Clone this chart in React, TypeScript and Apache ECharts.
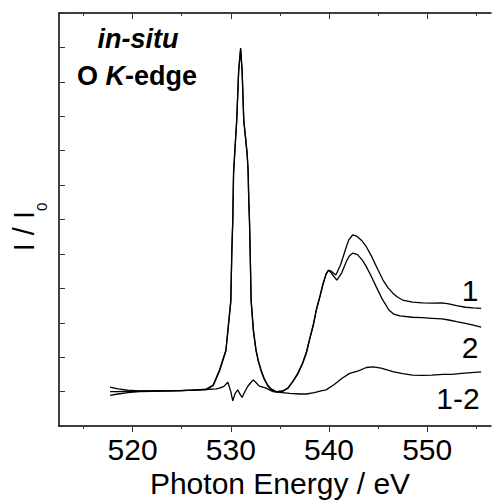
import { useEffect, useRef } from "react";
import * as echarts from "echarts";

// Photon energy (eV) and normalised intensity for spectrum 1
const energy1 = [517.7, 518.5, 519.5, 520.7, 522, 523.5, 525, 526.5, 527.5, 528.2, 528.85, 529.5, 530.0, 530.1, 530.2, 530.28, 530.45, 530.6, 530.8, 531.0, 531.15, 531.32, 531.5, 531.66, 531.76, 531.83, 531.9, 531.97, 532.07, 532.3, 532.57, 532.8, 533.08, 533.4, 533.75, 534.1, 534.6, 535.3, 535.8, 536.3, 536.8, 537.3, 537.7, 538.0, 538.4, 538.7, 539.1, 539.4, 539.7, 539.9, 540.2, 540.7, 541.2, 541.7, 542.0, 542.4, 542.8, 543.3, 543.8, 544.3, 544.8, 545.5, 546.0, 546.5, 547.0, 547.5, 548.5, 549.5, 550.5, 551.5, 552.2, 553.0, 553.9, 554.7, 555.5];
const intensity1 = [1.13, 1.08, 1.04, 1.02, 1.02, 1.03, 1.03, 1.05, 1.07, 1.19, 1.63, 2.21, 3.66, 5.1, 6.0, 7.4, 8.2, 8.9, 10.35, 10.98, 10.35, 8.9, 8.4, 7.93, 7.44, 6.57, 6.0, 5.12, 3.66, 2.8, 2.21, 1.9, 1.63, 1.38, 1.19, 1.08, 1.0, 1.02, 1.1, 1.29, 1.52, 1.83, 2.15, 2.5, 2.95, 3.37, 3.8, 4.15, 4.4, 4.52, 4.5, 4.39, 4.7, 5.15, 5.4, 5.55, 5.52, 5.4, 5.21, 4.95, 4.65, 4.24, 4.02, 3.86, 3.74, 3.66, 3.6, 3.58, 3.57, 3.58, 3.55, 3.5, 3.45, 3.43, 3.42];

// Spectrum 2
const energy2 = [517.7, 518.5, 519.5, 520.7, 522, 523.5, 525, 526.5, 527.5, 528.2, 528.85, 529.5, 530.0, 530.1, 530.2, 530.28, 530.45, 530.6, 530.8, 531.0, 531.15, 531.32, 531.5, 531.66, 531.76, 531.83, 531.9, 531.97, 532.07, 532.3, 532.57, 532.8, 533.08, 533.4, 533.75, 534.1, 534.6, 535.3, 535.8, 536.3, 536.8, 537.3, 537.7, 538.0, 538.4, 538.7, 539.1, 539.4, 539.7, 540.0, 540.4, 540.8, 541.3, 541.8, 542.1, 542.4, 542.9, 543.4, 543.8, 544.3, 544.8, 545.4, 546.1, 546.6, 547.2, 548.5, 549.5, 550.5, 551.5, 552.2, 553.0, 553.9, 554.7, 555.5];
const intensity2 = [1.0, 1.0, 1.01, 1.01, 1.02, 1.02, 1.03, 1.04, 1.06, 1.17, 1.6, 2.18, 3.6, 5.0, 5.95, 7.3, 8.15, 8.85, 10.3, 10.95, 10.3, 8.85, 8.35, 7.9, 7.4, 6.5, 5.95, 5.05, 3.62, 2.75, 2.18, 1.88, 1.6, 1.36, 1.17, 1.06, 0.99, 1.01, 1.09, 1.28, 1.5, 1.8, 2.12, 2.48, 2.92, 3.35, 3.78, 4.12, 4.42, 4.53, 4.38, 4.24, 4.45, 4.8, 4.95, 5.02, 4.98, 4.82, 4.63, 4.35, 4.05, 3.7, 3.37, 3.25, 3.2, 3.16, 3.15, 3.13, 3.11, 3.08, 3.03, 2.98, 2.93, 2.87];

// Difference spectrum 1-2
const energyDiff = [517.7, 518.5, 519.5, 520.7, 522, 524, 526, 527.5, 528.5, 528.85, 529.3, 529.7, 530.0, 530.2, 530.45, 530.7, 530.95, 531.15, 531.4, 531.7, 532.0, 532.3, 532.6, 532.9, 533.6, 534.3, 535.0, 536.0, 537.0, 537.7, 538.5, 539.2, 539.7, 540.5, 541.3, 542.1, 543.0, 543.8, 544.5, 545.3, 546.0, 546.5, 547.5, 548.5, 549.5, 550.5, 551.6, 552.5, 553.5, 554.5, 555.5];
const intensityDiff = [0.89, 0.93, 0.97, 1.0, 1.01, 1.02, 1.04, 1.06, 1.08, 1.1, 1.15, 1.27, 1.0, 0.73, 0.95, 1.05, 0.92, 0.83, 0.98, 1.14, 1.25, 1.34, 1.25, 1.16, 1.1, 1.0, 0.98, 0.95, 0.93, 0.93, 0.97, 1.02, 1.05, 1.2, 1.38, 1.53, 1.6, 1.7, 1.72, 1.68, 1.62, 1.58, 1.52, 1.48, 1.47, 1.48, 1.5, 1.5, 1.53, 1.55, 1.57];

// Axis ticks and labels
const majorTicks = [520, 530, 540, 550];
const minorTicks = [515, 525, 535, 545, 555];
const xMin = 512.5;
const xMax = 556.5;
const yMin = 0;
const yMax = 12;

const FONT = '"Liberation Sans", Arial, sans-serif';

const zip = (xs: number[], ys: number[]) => xs.map((x, i) => [x, ys[i]]);

export default function App() {
  const ref = useRef<HTMLDivElement>(null);
  useEffect(() => {
    if (!ref.current) return;
    const chart = echarts.init(ref.current, null, { renderer: "svg" });
    const tickStyle = { color: "#333", width: 1 };
    const baseX = {
      type: "value" as const,
      min: xMin,
      max: xMax,
      splitLine: { show: false },
    };
    const annot = (text: string, x: number, y: number) => ({
      type: "text", x, y,
      style: { text, fontSize: 30, fontFamily: FONT, fill: "#000", align: "center", verticalAlign: "middle", textAlign: "center", textVerticalAlign: "middle" },
    });
    chart.setOption({
      animation: false,
      backgroundColor: "#fff",
      grid: { left: 59, right: 1, top: 13, bottom: 75, containLabel: false, outerBoundsMode: "none" },
      xAxis: [
        {
          ...baseX,
          position: "bottom",
          axisLine: { show: true, lineStyle: { color: "#000", width: 1.5 } },
          axisTick: { show: true, inside: false, length: 6, customValues: majorTicks, lineStyle: tickStyle },
          axisLabel: { show: true, customValues: majorTicks, fontSize: 30, fontFamily: FONT, color: "#000", margin: 8 },
          name: "Photon Energy / eV",
          nameLocation: "middle",
          nameGap: 41,
          nameTextStyle: { fontSize: 30, fontFamily: FONT, color: "#000", padding: [0, 0, 0, 10] },
        },
        {
          ...baseX,
          position: "bottom",
          axisLine: { show: false },
          axisTick: { show: true, inside: false, length: 3, customValues: minorTicks, lineStyle: tickStyle },
          axisLabel: { show: false },
        },
        {
          ...baseX,
          position: "top",
          axisLine: { show: true, lineStyle: { color: "#000", width: 1.5 } },
          axisTick: { show: true, inside: true, length: 6, customValues: majorTicks, lineStyle: tickStyle },
          axisLabel: { show: false },
        },
        {
          ...baseX,
          position: "top",
          axisLine: { show: false },
          axisTick: { show: true, inside: true, length: 3, customValues: minorTicks, lineStyle: tickStyle },
          axisLabel: { show: false },
        },
      ],
      yAxis: {
        type: "value",
        min: yMin,
        max: yMax,
        interval: 1,
        splitLine: { show: false },
        axisLine: { show: true, lineStyle: { color: "#000", width: 1.5 } },
        axisTick: { show: true, inside: true, length: 6, lineStyle: tickStyle },
        axisLabel: { show: false },
        name: "{m|I / I}{s|0}",
        nameLocation: "middle",
        nameGap: 21,
        nameRotate: 90,
        nameTextStyle: {
          fontFamily: FONT,
          color: "#000",
          padding: [0, 15, 0, 0],
          rich: {
            m: { fontSize: 29, lineHeight: 29, fontFamily: FONT, color: "#000", verticalAlign: "top" },
            s: { fontSize: 15, lineHeight: 15, fontFamily: FONT, color: "#000", verticalAlign: "top", padding: [25, 0, 0, 0] },
          },
        },
      },
      series: [
        { type: "line", name: "1", data: zip(energy1, intensity1), xAxisIndex: 0, showSymbol: false, lineStyle: { color: "#000", width: 1.3 }, itemStyle: { color: "#000" } },
        { type: "line", name: "2", data: zip(energy2, intensity2), xAxisIndex: 0, showSymbol: false, lineStyle: { color: "#000", width: 1.3 }, itemStyle: { color: "#000" } },
        { type: "line", name: "1-2", data: zip(energyDiff, intensityDiff), xAxisIndex: 0, showSymbol: false, lineStyle: { color: "#000", width: 1.3 }, itemStyle: { color: "#000" } },
      ],
      graphic: [
        { type: "text", x: 138, y: 39, style: { text: "in-situ", fontSize: 27, fontWeight: "bold", fontStyle: "italic", fontFamily: FONT, fill: "#000", align: "center", verticalAlign: "middle", textAlign: "center", textVerticalAlign: "middle" } },
        {
          type: "text", x: 137, y: 76,
          style: {
            text: "{b|O }{i|K}{b|-edge}",
            fill: "#000", align: "center", verticalAlign: "middle", textAlign: "center", textVerticalAlign: "middle",
            rich: {
              b: { fontSize: 27, fontWeight: "bold", fontFamily: FONT, fill: "#000" },
              i: { fontSize: 27, fontWeight: "bold", fontStyle: "italic", fontFamily: FONT, fill: "#000" },
            },
          },
        },
        annot("1", 470, 290),
        annot("2", 470, 347),
        annot("1-2", 458, 398),
      ],
    });
    return () => chart.dispose();
  }, []);
  return <div ref={ref} style={{ position: "absolute", left: 0, top: 0, width: 492, height: 501 }} />;
}
